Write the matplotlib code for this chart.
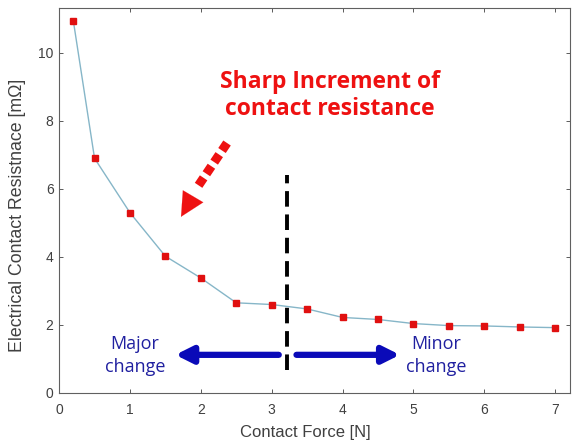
import matplotlib
matplotlib.use("Agg")
import matplotlib.pyplot as plt

force = [0.2, 0.5, 1.0, 1.5, 2.0, 2.5, 3.0, 3.5, 4.0, 4.5, 5.0, 5.5, 6.0, 6.5, 7.0]
resistance = [10.95, 6.9, 5.3, 4.02, 3.38, 2.65, 2.6, 2.47, 2.22, 2.16, 2.04, 1.98, 1.97, 1.94, 1.92]
xticks = [0, 1, 2, 3, 4, 5, 6, 7]
yticks = [0, 2, 4, 6, 8, 10]

plt.rcParams['font.family'] = ['Liberation Sans', 'DejaVu Sans']
fig = plt.figure(figsize=(5.74, 4.47), dpi=100)
ax = fig.add_axes([0.103, 0.121, 0.890, 0.861])

ax.plot(force, resistance, color='#86b6c8', lw=1.0, marker='s', ms=4.5,
        mfc='#e01010', mec='#e01010', zorder=3)

ax.set_xlim(0, 7.21)
ax.set_ylim(0, 11.32)
ax.set_xticks(xticks)
ax.set_yticks(yticks)
ax.tick_params(direction='in', top=True, right=True, labelsize=10,
               colors='#404040', length=3, width=0.6, pad=4)
ax.tick_params(axis='x', pad=7)
for s in ax.spines.values():
    s.set_color('#606060')
    s.set_linewidth(0.8)
ax.set_xlabel('Contact Force [N]', fontsize=12, color='#404040')
ax.set_ylabel('Electrical Contact Resistnace [mΩ]', fontsize=12.8, color='#404040')
ax.xaxis.set_label_coords(0.481, -0.083)
ax.yaxis.set_label_coords(-0.064, 0.462)

# vertical dashed divider
ax.plot([3.22, 3.22], [0.68, 6.42], color='black', lw=2.8, ls=(0, (4, 2)))

# blue arrows
ax.annotate('', xy=(1.64, 1.12), xytext=(3.1, 1.12),
            arrowprops=dict(arrowstyle='-|>,head_length=1.0,head_width=0.5',
                            color='#0a0ab8', lw=4.5, shrinkA=0, shrinkB=0))
ax.annotate('', xy=(4.81, 1.12), xytext=(3.35, 1.12),
            arrowprops=dict(arrowstyle='-|>,head_length=1.0,head_width=0.5',
                            color='#0a0ab8', lw=4.5, shrinkA=0, shrinkB=0))
ax.text(1.07, 1.1, 'Major\nchange', ha='center', va='center', fontsize=13,
        color='#2020a0', family=['Open Sans', 'DejaVu Sans'], linespacing=1.3)
ax.text(5.32, 1.1, 'Minor\nchange', ha='center', va='center', fontsize=13,
        color='#2020a0', family=['Open Sans', 'DejaVu Sans'], linespacing=1.3)

# red title text
ax.text(3.82, 8.75, 'Sharp Increment of\ncontact resistance', ha='center', va='center',
        fontsize=16.5, fontweight='bold', color='#ee1111',
        family=['Open Sans', 'DejaVu Sans'], linespacing=1.2)

# red dotted arrow
ax.plot([2.37, 1.96], [7.35, 6.08], color='#ee1111', lw=6.5, ls=(0, (1.0, 0.55)),
        solid_capstyle='butt', dash_capstyle='butt')
ax.annotate('', xy=(1.72, 5.18), xytext=(1.89, 5.78),
            arrowprops=dict(arrowstyle='-|>,head_length=1.7,head_width=0.85',
                            color='#ee1111', lw=0.1, shrinkA=0, shrinkB=0))

fig.savefig('out.png', dpi=100)
